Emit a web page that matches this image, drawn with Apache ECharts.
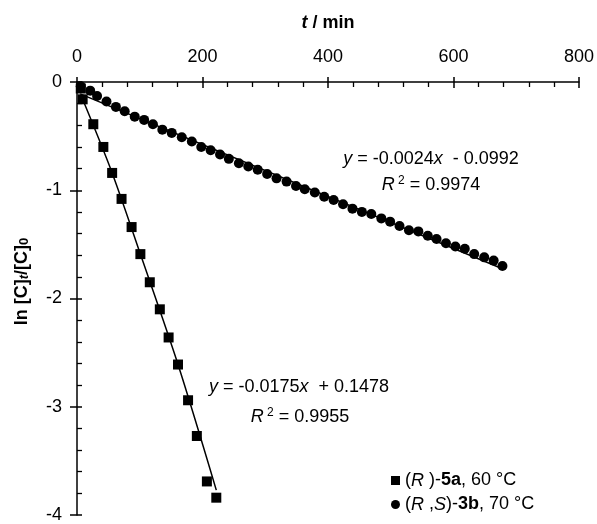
<!DOCTYPE html>
<html>
<head>
<meta charset="utf-8">
<script src="https://cdn.jsdelivr.net/npm/echarts@6.0.0/dist/echarts.min.js"></script>
<style>
  html, body { margin: 0; padding: 0; background: #fff; }
  #chart { width: 597px; height: 524px; }
</style>
</head>
<body>
<div id="chart"></div>
<script>
// (R)-5a, 60 °C  -- squares
const tR = [6, 9, 26, 42, 56, 71, 87, 101, 116, 132, 146, 161, 177, 191, 207, 222];
const lnR = [-0.06, -0.16, -0.39, -0.60, -0.84, -1.08, -1.34, -1.59, -1.85, -2.10, -2.36, -2.61, -2.94, -3.27, -3.69, -3.84];

// (R,S)-3b, 70 °C -- circles
const tRS = [6, 21, 32, 47, 62, 76, 92, 107, 121, 136, 151, 167, 183, 198, 213, 228, 242, 258, 273, 288, 303, 318, 334, 349, 363, 379, 394, 409, 424, 439, 454, 469, 485, 499, 514, 529, 544, 559, 573, 588, 603, 618, 633, 649, 664, 678];
const lnRS = [-0.04, -0.08, -0.13, -0.18, -0.23, -0.27, -0.32, -0.35, -0.39, -0.44, -0.47, -0.51, -0.55, -0.60, -0.63, -0.67, -0.71, -0.75, -0.78, -0.81, -0.85, -0.89, -0.92, -0.96, -0.99, -1.02, -1.06, -1.09, -1.13, -1.17, -1.20, -1.22, -1.26, -1.29, -1.33, -1.37, -1.38, -1.42, -1.45, -1.49, -1.52, -1.54, -1.59, -1.62, -1.65, -1.70];

// trend lines
const trendRt = [9, 56, 101, 161, 222];
const trendRy = [-0.16, -0.84, -1.59, -2.61, -3.77];
const trendRSt = [5, 680];
const trendRSy = [-0.11, -1.73];

// axis ticks
const xTicks = [0, 200, 400, 600, 800];
const yTicks = [-4, -3, -2, -1, 0];

const font = "'Liberation Sans', Arial, sans-serif";
const black = "#000";
const zip = (a, b) => a.map((v, i) => [v, b[i]]);

const chart = echarts.init(document.getElementById("chart"));

const baseX = {
  type: "value",
  position: "top",
  min: xTicks[0],
  max: xTicks[xTicks.length - 1],
  interval: xTicks[1] - xTicks[0],
  splitLine: { show: false },
};
const baseY = {
  type: "value",
  position: "left",
  min: yTicks[0],
  max: yTicks[yTicks.length - 1],
  interval: yTicks[1] - yTicks[0],
  splitLine: { show: false },
};

const option = {
  animation: false,
  backgroundColor: "#fff",
  grid: { left: 77, top: 82, right: 17, bottom: 4, containLabel: false },
  xAxis: [
    {
      ...baseX,
      axisLine: { show: true, onZero: false, lineStyle: { color: black, width: 1.5 } },
      axisTick: { show: true, inside: true, length: 6, lineStyle: { color: black, width: 1.5 } },
      minorTick: { show: true, splitNumber: 5, length: 5, lineStyle: { color: black, width: 1.3 } },
      axisLabel: { fontSize: 18, color: black, fontFamily: font, margin: 16 },
      name: "{it|t} / min",
      nameLocation: "middle",
      nameGap: 50,
      nameTextStyle: {
        fontSize: 18, fontWeight: "bold", color: black, fontFamily: font,
        rich: { it: { fontSize: 18, fontWeight: "bold", fontStyle: "italic", fontFamily: font, color: black } },
      },
    },
    {
      ...baseX,
      axisLine: { show: false, onZero: false },
      axisTick: { show: true, inside: false, length: 5, lineStyle: { color: black, width: 1.5 } },
      axisLabel: { show: false },
    },
  ],
  yAxis: [
    {
      ...baseY,
      axisLine: { show: true, onZero: false, lineStyle: { color: black, width: 1.5 } },
      axisTick: { show: true, inside: true, length: 5, lineStyle: { color: black, width: 1.5 } },
      minorTick: { show: true, splitNumber: 5, length: 5, lineStyle: { color: black, width: 1.3 } },
      axisLabel: { fontSize: 18, color: black, fontFamily: font, margin: 15 },
      name: "{n|ln [C]}{sub|t}{n|/[C]}{sub0|0}",
      nameLocation: "middle",
      nameGap: 46,
      nameTextStyle: {
        padding: [0, 0, 0, 34],
        fontSize: 18, fontWeight: "bold", color: black, fontFamily: font,
        rich: {
          n: { fontSize: 18, fontWeight: "bold", fontFamily: font, color: black, verticalAlign: "middle" },
          sub: { fontSize: 13, fontWeight: "bold", fontStyle: "italic", fontFamily: font, color: black, verticalAlign: "bottom" },
          sub0: { fontSize: 13, fontWeight: "bold", fontFamily: font, color: black, verticalAlign: "bottom" },
        },
      },
    },
    {
      ...baseY,
      axisLine: { show: false, onZero: false },
      axisTick: { show: true, inside: false, length: 7, lineStyle: { color: black, width: 1.5 } },
      axisLabel: { show: false },
    },
  ],
  legend: {
    orient: "vertical",
    left: 386,
    top: 466,
    itemWidth: 9,
    itemHeight: 9,
    itemGap: 5,
    data: [
      { name: "R5a", icon: "rect", itemStyle: { color: black, opacity: 1 } },
      { name: "RS3b", icon: "circle", itemStyle: { color: black, opacity: 1 } },
    ],
    formatter: (name) =>
      name === "R5a"
        ? "({i|R} )-{b|5a}, 60 °C"
        : "({i|R} ,{i|S})-{b|3b}, 70 °C",
    textStyle: {
      fontSize: 18, color: black, fontFamily: font, lineHeight: 19,
      rich: {
        i: { fontSize: 18, fontStyle: "italic", fontFamily: font, color: black },
        b: { fontSize: 18, fontWeight: "bold", fontFamily: font, color: black },
      },
    },
  },
  graphic: [
    {
      type: "text", x: 431, y: 159,
      style: {
        text: "{i|y} = -0.0024{i|x}  - 0.0992",
        font: "18px " + font, fill: black, align: "center", verticalAlign: "middle",
        rich: { i: { fontStyle: "italic", fontSize: 18, fontFamily: font } },
      },
    },
    {
      type: "text", x: 431, y: 185,
      style: {
        text: "{i|R}{sup| 2} = 0.9974",
        font: "18px " + font, fill: black, align: "center", verticalAlign: "middle",
        rich: {
          i: { fontStyle: "italic", fontSize: 18, fontFamily: font, lineHeight: 20 },
          sup: { fontSize: 12, fontFamily: font, verticalAlign: "top", lineHeight: 20 },
        },
      },
    },
    {
      type: "text", x: 299, y: 387,
      style: {
        text: "{i|y} = -0.0175{i|x}  + 0.1478",
        font: "18px " + font, fill: black, align: "center", verticalAlign: "middle",
        rich: { i: { fontStyle: "italic", fontSize: 18, fontFamily: font } },
      },
    },
    {
      type: "text", x: 300, y: 417,
      style: {
        text: "{i|R}{sup| 2} = 0.9955",
        font: "18px " + font, fill: black, align: "center", verticalAlign: "middle",
        rich: {
          i: { fontStyle: "italic", fontSize: 18, fontFamily: font, lineHeight: 20 },
          sup: { fontSize: 12, fontFamily: font, verticalAlign: "top", lineHeight: 20 },
        },
      },
    },
  ],
  series: [
    {
      name: "trendRS", type: "line", data: zip(trendRSt, trendRSy),
      showSymbol: false, symbol: "none", silent: true,
      lineStyle: { color: black, width: 1.5 }, z: 1,
    },
    {
      name: "trendR", type: "line", data: zip(trendRt, trendRy),
      showSymbol: false, symbol: "none", silent: true, smooth: 0.3,
      lineStyle: { color: black, width: 1.5 }, z: 1,
    },
    {
      name: "RS3b", type: "scatter", data: zip(tRS, lnRS),
      symbol: "circle", symbolSize: 10, itemStyle: { color: black, opacity: 1 }, z: 3,
    },
    {
      name: "R5a", type: "scatter", data: zip(tR, lnR),
      symbol: "rect", symbolSize: 10, itemStyle: { color: black, opacity: 1 }, z: 3,
    },
  ],
};

chart.setOption(option);
</script>
</body>
</html>
